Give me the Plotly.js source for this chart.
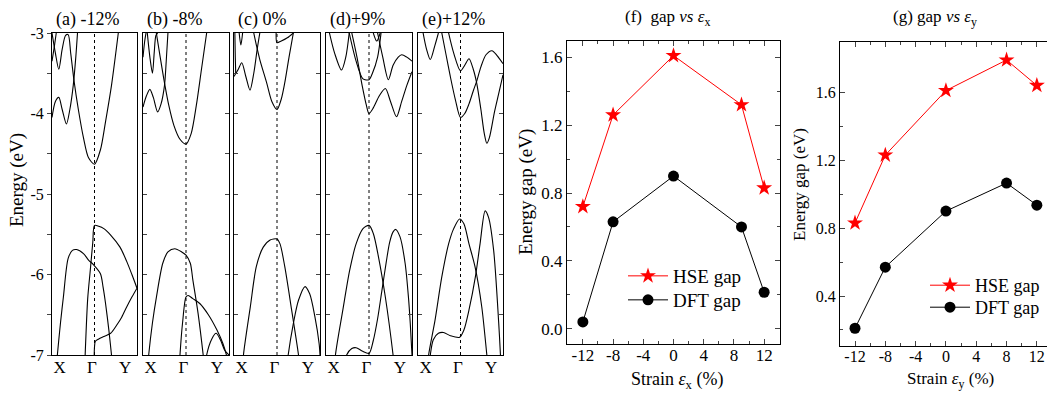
<!DOCTYPE html>
<html><head><meta charset="utf-8">
<script src="https://cdn.plot.ly/plotly-3.0.1.min.js"></script>
<style>html,body{margin:0;padding:0;overflow:hidden;background:#fff;} #chart{width:1060px;height:396px;}</style>
</head><body><div id="chart"></div>
<script>
// ---------- data ----------
const panelTitles = ['(a) -12%', '(b) -8%', '(c) 0%', '(d)+9%', '(e)+12%'];
const kLabels = ['X', 'Γ', 'Y'];
const kLabelPos = [0.09, 0.47, 0.86];
const gammaK = 0.5;
const energyTicks = [-7, -6, -5, -4, -3];
const energyTickText = ['-7', '-6', '-5', '-4', '-3'];
const energyMinor = [-6.5, -5.5, -4.5, -3.5];

// bands: [k, E(eV)] along X(0) - Γ(0.5) - Y(1)
const bandsA = [
  [[0,-3.0],[0.04,-3.25],[0.08,-3.45],[0.12,-3.2],[0.16,-3.03],[0.19,-3.02],[0.22,-3.25],[0.26,-3.6],[0.31,-3.95],[0.37,-4.3],[0.43,-4.55],[0.5,-4.63],[0.57,-4.45],[0.63,-4.1],[0.7,-3.65],[0.78,-3.0]],
  [[0,-4.05],[0.04,-3.85],[0.08,-3.8],[0.12,-3.95],[0.17,-4.13],[0.21,-3.95],[0.25,-3.65],[0.28,-3.3],[0.3,-3.0]],
  [[0,-3.35],[0.03,-3.15],[0.05,-3.0]],
  [[0.04,-7.3],[0.063,-7.0],[0.1,-6.6],[0.134,-6.28],[0.19,-5.8],[0.24,-5.7],[0.29,-5.69],[0.37,-5.74],[0.43,-5.82],[0.49,-5.88],[0.57,-5.99],[0.6,-6.15],[0.63,-6.36],[0.67,-6.7],[0.7,-7.0],[0.72,-7.2]],
  [[0.38,-7.3],[0.39,-7.0],[0.42,-6.3],[0.45,-5.95],[0.48,-5.6],[0.5,-5.39],[0.55,-5.4],[0.61,-5.43],[0.69,-5.51],[0.8,-5.66],[0.88,-5.84],[0.94,-6.0],[1.0,-6.17]],
  [[1.0,-6.17],[0.94,-6.28],[0.88,-6.4],[0.82,-6.53],[0.76,-6.63],[0.69,-6.73],[0.61,-6.77],[0.55,-6.8],[0.51,-6.83],[0.5,-6.9],[0.495,-7.1]]
];
const bandsB = [
  [[0,-3.92],[0.04,-3.78],[0.08,-3.7],[0.12,-3.8],[0.17,-3.98],[0.21,-3.88],[0.25,-3.65],[0.27,-3.35],[0.29,-3.0]],
  [[0.155,-3.0],[0.2,-3.3],[0.25,-3.62],[0.3,-3.9],[0.36,-4.15],[0.43,-4.32],[0.5,-4.38],[0.56,-4.25],[0.62,-3.9],[0.68,-3.45],[0.74,-3.0]],
  [[0.0,-3.3],[0.02,-3.1],[0.035,-3.0]],
  [[0.05,-3.0],[0.08,-3.3],[0.11,-3.5],[0.13,-3.25],[0.15,-3.03],[0.17,-3.0]],
  [[0.05,-7.2],[0.066,-7.0],[0.11,-6.6],[0.156,-6.28],[0.23,-5.86],[0.29,-5.72],[0.37,-5.68],[0.45,-5.72],[0.5,-5.76],[0.55,-5.86],[0.58,-6.07],[0.64,-6.48],[0.7,-7.0],[0.72,-7.2]],
  [[0.42,-7.2],[0.43,-7.0],[0.46,-6.6],[0.5,-6.28],[0.525,-6.26],[0.58,-6.3],[0.66,-6.36],[0.76,-6.5],[0.86,-6.69],[0.93,-6.86],[0.97,-7.0],[0.99,-7.1]],
  [[0.72,-7.2],[0.74,-7.0],[0.8,-6.8],[0.85,-6.73],[0.9,-6.81],[0.95,-6.94],[1.0,-7.0]]
];
const bandsC = [
  [[0,-3.54],[0.05,-3.45],[0.09,-3.37],[0.14,-3.55],[0.186,-3.71],[0.23,-3.5],[0.27,-3.2],[0.3,-3.0]],
  [[0.22,-2.95],[0.26,-3.15],[0.3,-3.33],[0.38,-3.62],[0.44,-3.85],[0.5,-3.95],[0.55,-3.82],[0.59,-3.62],[0.64,-3.3],[0.69,-3.0]],
  [[0.49,-3.0],[0.5,-3.12],[0.55,-3.1],[0.62,-3.06],[0.69,-3.0]],
  [[0.01,-3.0],[0.015,-3.3],[0.02,-3.5]],
  [[0.06,-3.0],[0.08,-3.15],[0.1,-3.0]],
  [[0.1,-7.2],[0.11,-7.0],[0.19,-6.4],[0.26,-5.9],[0.34,-5.66],[0.42,-5.57],[0.5,-5.56],[0.535,-5.62],[0.59,-5.9],[0.67,-6.44],[0.75,-7.0],[0.77,-7.2]],
  [[0.61,-7.2],[0.63,-7.0],[0.69,-6.61],[0.75,-6.32],[0.826,-6.15],[0.88,-6.24],[0.94,-6.52],[0.99,-6.86],[1.0,-7.0]]
];
const bandsD = [
  [[0.04,-3.0],[0.1,-3.25],[0.18,-3.46],[0.23,-3.3],[0.27,-3.0]],
  [[0.3,-3.0],[0.36,-3.3],[0.42,-3.65],[0.47,-3.9],[0.5,-4.0],[0.55,-3.93],[0.62,-3.78],[0.69,-3.69],[0.75,-3.85],[0.82,-4.04],[0.88,-3.85],[0.94,-3.65],[1.0,-3.48]],
  [[0.27,-3.0],[0.35,-3.35],[0.43,-3.57],[0.5,-3.58],[0.54,-3.5],[0.6,-3.3],[0.64,-3.0]],
  [[0.6,-3.0],[0.66,-3.3],[0.725,-3.58],[0.78,-3.4],[0.84,-3.3],[0.88,-3.27],[0.94,-3.3],[1.0,-3.35]],
  [[0.55,-3.0],[0.59,-3.1],[0.63,-3.0]],
  [[0.1,-7.2],[0.11,-7.0],[0.196,-6.44],[0.275,-5.95],[0.35,-5.62],[0.43,-5.43],[0.5,-5.39],[0.55,-5.49],[0.61,-5.78],[0.69,-6.28],[0.78,-7.0],[0.8,-7.2]],
  [[0.22,-7.1],[0.24,-7.0],[0.3,-6.92],[0.35,-6.91],[0.42,-6.95],[0.5,-6.98],[0.55,-6.82],[0.6,-6.55],[0.65,-6.2],[0.7,-5.85],[0.74,-5.6],[0.78,-5.47],[0.81,-5.44],[0.86,-5.53],[0.92,-5.86],[0.96,-6.3],[0.98,-6.61],[1.0,-7.0]]
];
const bandsE = [
  [[0.06,-3.0],[0.1,-3.2],[0.145,-3.33],[0.2,-3.15],[0.24,-3.0]],
  [[0.28,-3.0],[0.33,-3.27],[0.38,-3.54],[0.44,-3.83],[0.5,-4.05],[0.55,-4.0],[0.6,-3.88],[0.65,-3.72],[0.69,-3.6],[0.74,-3.42],[0.8,-3.27],[0.87,-3.22],[0.93,-3.28],[1.0,-3.38]],
  [[0.36,-3.0],[0.42,-3.25],[0.5,-3.47],[0.55,-3.4],[0.6,-3.32],[0.65,-3.45],[0.69,-3.62],[0.74,-3.95],[0.78,-4.25],[0.81,-4.37],[0.84,-4.3],[0.9,-3.98],[0.95,-3.75],[1.0,-3.52]],
  [[0.11,-7.2],[0.125,-7.0],[0.2,-6.57],[0.28,-6.03],[0.36,-5.62],[0.42,-5.43],[0.49,-5.31],[0.54,-5.37],[0.6,-5.62],[0.67,-5.9],[0.75,-6.4],[0.81,-7.0],[0.83,-7.2]],
  [[0.13,-7.2],[0.145,-7.0],[0.18,-6.81],[0.24,-6.73],[0.3,-6.72],[0.38,-6.76],[0.49,-6.78],[0.54,-6.69],[0.6,-6.44],[0.675,-6.03],[0.73,-5.62],[0.79,-5.21],[0.83,-5.29],[0.89,-5.7],[0.95,-6.61],[0.97,-7.0],[0.98,-7.2]]
];

// gap vs strain
const strainX = [-12, -8, 0, 9, 12];
const hseGapX = [0.72, 1.26, 1.61, 1.32, 0.83];
const dftGapX = [0.04, 0.63, 0.90, 0.60, 0.215];
const strainY = [-12, -8, 0, 8, 12];
const hseGapY = [0.83, 1.23, 1.61, 1.79, 1.64];
const dftGapY = [0.21, 0.57, 0.90, 1.065, 0.935];
const strainTicks = [-12, -8, -4, 0, 4, 8, 12];
const strainTickText = ['-12', '-8', '-4', '0', '4', '8', '12'];
const strainMinor = [-14, -10, -6, -2, 2, 6, 10, 14];
const gapTicks = [0, 0.4, 0.8, 1.2, 1.6];
const gapTickText = ['0.0', '0.4', '0.8', '1.2', '1.6'];
const gapMinor = [0.2, 0.6, 1.0, 1.4];

// ---------- layout ----------
const W = 1060, H = 396;
const FONT = '"Liberation Serif", "Times New Roman", serif';
const px = v => v / W;
const py = v => 1 - v / H;
const bandCols = [[52,137],[143,229],[234,320],[326,412],[418,503]];
const bandRows = [33, 355];
const allBands = [bandsA, bandsB, bandsC, bandsD, bandsE];

const data = [];
const layout = {
  width: W, height: H, margin: {l:0, r:0, t:0, b:0},
  paper_bgcolor: '#fff', plot_bgcolor: 'rgba(0,0,0,0)',
  font: {family: FONT, color: '#000', size: 16},
  showlegend: true, shapes: [], annotations: []
};
const axLine = {showline: true, linecolor: '#000', linewidth: 1, showgrid: false, zeroline: false, fixedrange: true};

allBands.forEach((bands, i) => {
  const n = i + 1, s = n === 1 ? '' : String(n);
  const tdir = n === 1 ? 'outside' : 'inside';
  layout['xaxis' + s] = Object.assign({}, axLine, {
    domain: [px(bandCols[i][0]), px(bandCols[i][1])], range: [0, 1], anchor: 'y' + s,
    mirror: true, tickmode: 'array', tickvals: kLabelPos, ticktext: kLabels,
    ticks: '', ticklabelstandoff: -3, tickfont: {family: FONT, size: 17}
  });
  layout['yaxis' + s] = Object.assign({}, axLine, {
    domain: [py(bandRows[1]), py(bandRows[0])], range: [-7, -3], anchor: 'x' + s,
    mirror: n === 1 ? true : 'ticks', ticks: tdir, ticklen: 4,
    tickmode: 'array', tickvals: energyTicks, ticktext: energyTickText,
    minor: {tickmode: 'array', tickvals: energyMinor, ticks: tdir, ticklen: 4},
    showticklabels: n === 1, tickfont: {family: FONT, size: 16}
  });
  bands.forEach(b => {
    data.push({
      x: b.map(p => p[0]), y: b.map(p => p[1]), xaxis: 'x' + s, yaxis: 'y' + s,
      mode: 'lines', line: {color: '#000', width: 1.1, shape: 'spline', smoothing: 0.8},
      showlegend: false, hoverinfo: 'skip'
    });
  });
  layout.shapes.push({type: 'line', xref: 'x' + s, yref: 'y' + s + ' domain', x0: gammaK, x1: gammaK, y0: 0, y1: 1,
    line: {color: '#000', width: 1, dash: 'dot'}});
  layout.annotations.push({text: panelTitles[i], xref: 'paper', yref: 'paper', x: px(bandCols[i][0] + 2), y: py(20),
    xanchor: 'left', yanchor: 'middle', showarrow: false, font: {family: FONT, size: 18}});
});
// right-side inside ticks for panel (a)
layout.yaxis8 = {overlaying: 'y', side: 'right', anchor: 'x', range: [-7, -3], tickmode: 'array', tickvals: energyTicks,
  minor: {tickmode: 'array', tickvals: energyMinor, ticks: 'inside', ticklen: 4},
  ticks: 'inside', ticklen: 4, showticklabels: false, showline: false, showgrid: false, zeroline: false, fixedrange: true};
layout.annotations.push({text: 'Energy (eV)', xref: 'paper', yref: 'paper', x: px(17), y: py(180), textangle: -90,
  showarrow: false, xanchor: 'center', yanchor: 'middle', font: {family: FONT, size: 19}});

// panels f and g: ticks inside on all four sides
function gapAxes(dom, xr, yr, sx, sy, fs) {
  const xa = Object.assign({}, axLine, {domain: [px(dom.x[0]), px(dom.x[1])], range: xr, anchor: sy, mirror: 'ticks',
    tickmode: 'array', tickvals: strainTicks, ticktext: strainTickText, ticks: 'inside', ticklen: 5,
    tickfont: {family: FONT, size: fs}, ticklabelstandoff: -4,
    minor: {tickmode: 'array', tickvals: strainMinor, ticks: 'inside', ticklen: 3}});
  const ya = Object.assign({}, axLine, {domain: [py(dom.y[1]), py(dom.y[0])], range: yr, anchor: sx, mirror: 'ticks',
    tickmode: 'array', tickvals: gapTicks, ticktext: gapTickText, ticks: 'inside', ticklen: 5,
    tickfont: {family: FONT, size: fs},
    minor: {tickmode: 'array', tickvals: gapMinor, ticks: 'inside', ticklen: 3}});
  return [xa, ya];
}
[layout.xaxis6, layout.yaxis6] = gapAxes({x: [567, 780], y: [41, 344]}, [-14.1, 14.1], [-0.09, 1.696], 'x6', 'y6', 17);
[layout.xaxis7, layout.yaxis7] = gapAxes({x: [840, 1052], y: [42, 346]}, [-13.98, 14.0], [0.1055, 1.896], 'x7', 'y7', 16);

const hseStyle = {mode: 'lines+markers', line: {color: '#ff0000', width: 1}, marker: {symbol: 'star', size: 12, color: '#ff0000'}, name: 'HSE gap', hoverinfo: 'skip'};
const dftStyle = {mode: 'lines+markers', line: {color: '#000', width: 1}, marker: {symbol: 'circle', size: 11, color: '#000'}, name: 'DFT gap', hoverinfo: 'skip'};
data.push(Object.assign({x: strainX, y: hseGapX, xaxis: 'x6', yaxis: 'y6', legend: 'legend'}, hseStyle));
data.push(Object.assign({x: strainX, y: dftGapX, xaxis: 'x6', yaxis: 'y6', legend: 'legend2'}, dftStyle));
data.push(Object.assign({x: strainY, y: hseGapY, xaxis: 'x7', yaxis: 'y7', legend: 'legend3'}, hseStyle));
data.push(Object.assign({x: strainY, y: dftGapY, xaxis: 'x7', yaxis: 'y7', legend: 'legend4'}, dftStyle));

const legBase = {xanchor: 'left', yanchor: 'top', bgcolor: 'rgba(0,0,0,0)', borderwidth: 0, itemwidth: 40, tracegroupgap: 0};
layout.legend = Object.assign({x: px(623), y: py(257), font: {family: FONT, size: 19}}, legBase);
layout.legend2 = Object.assign({x: px(623), y: py(281), font: {family: FONT, size: 19}}, legBase);
layout.legend3 = Object.assign({x: px(925), y: py(267), font: {family: FONT, size: 18}}, legBase);
layout.legend4 = Object.assign({x: px(925), y: py(289), font: {family: FONT, size: 18}}, legBase);

layout.annotations.push(
  {text: '(f)  gap <i>vs</i> <i>ε</i><sub>x</sub>', xref: 'paper', yref: 'paper', x: px(667), y: py(18), showarrow: false, xanchor: 'center', yanchor: 'middle', font: {family: FONT, size: 17}},
  {text: '(g) gap <i>vs</i> <i>ε</i><sub>y</sub>', xref: 'paper', yref: 'paper', x: px(935), y: py(18), showarrow: false, xanchor: 'center', yanchor: 'middle', font: {family: FONT, size: 17}},
  {text: 'Energy gap (eV)', xref: 'paper', yref: 'paper', x: px(526), y: py(192), textangle: -90, showarrow: false, xanchor: 'center', yanchor: 'middle', font: {family: FONT, size: 19}},
  {text: 'Energy gap (eV)', xref: 'paper', yref: 'paper', x: px(800), y: py(185), textangle: -90, showarrow: false, xanchor: 'center', yanchor: 'middle', font: {family: FONT, size: 17}},
  {text: 'Strain <i>ε</i><sub>x</sub> (%)', xref: 'paper', yref: 'paper', x: px(677), y: py(380), showarrow: false, xanchor: 'center', yanchor: 'middle', font: {family: FONT, size: 18}},
  {text: 'Strain <i>ε</i><sub>y</sub> (%)', xref: 'paper', yref: 'paper', x: px(950), y: py(380), showarrow: false, xanchor: 'center', yanchor: 'middle', font: {family: FONT, size: 17}}
);

Plotly.newPlot('chart', data, layout, {staticPlot: true, displayModeBar: false});
</script></body></html>
